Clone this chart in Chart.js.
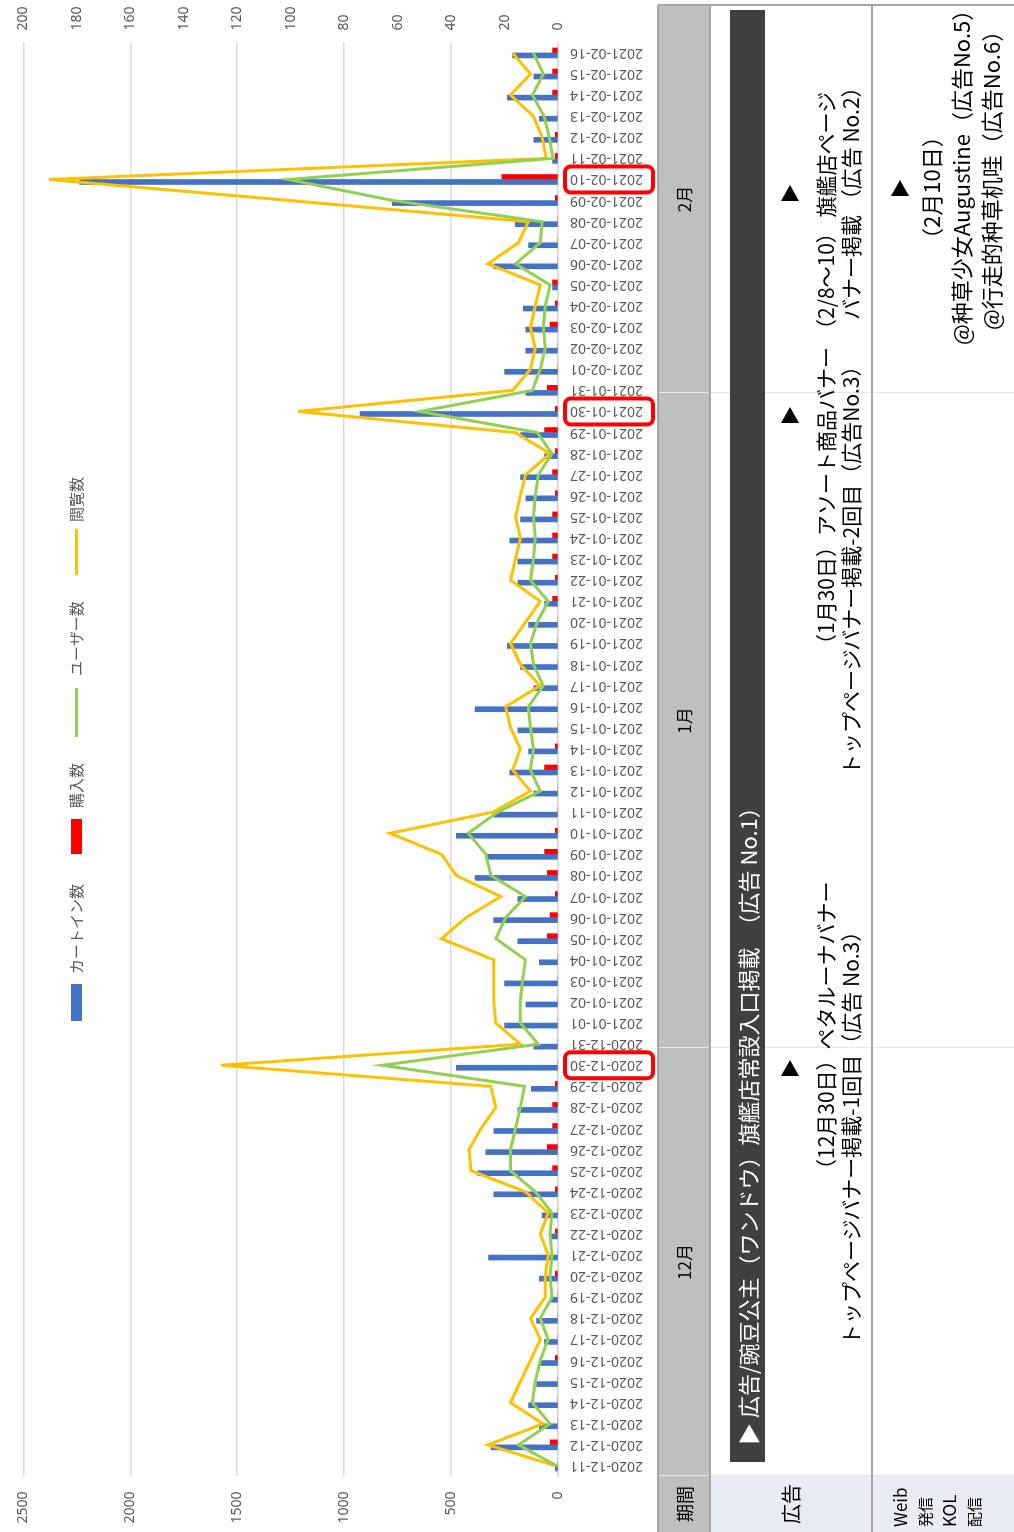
<!DOCTYPE html>
<html lang="ja">
<head>
<meta charset="UTF-8" />
<title>カートイン数・購入数・ユーザー数・閲覧数 推移</title>
<script src="https://cdn.jsdelivr.net/npm/chart.js"></script>
<style>
  body { margin: 0; width: 1014px; height: 1532px; overflow: hidden; background: #fff;
         font-family: "Noto Sans CJK JP", "Noto Sans", sans-serif; }
  /* the sheet is laid out landscape and turned a quarter to the left */
  #sheet { position: absolute; left: 0; top: 0; width: 1532px; height: 1014px;
           transform-origin: 0 0; transform: translate(0, 1532px) rotate(-90deg); }
  .abs { position: absolute; }
  .txt { position: absolute; white-space: nowrap; line-height: 22px; height: 22px; font-size: 21px; color: #000; }
  .kol { font-size: 22px; }
  .tri { position: absolute; width: 0; height: 0; border-left: 16px solid #000;
         border-top: 9px solid transparent; border-bottom: 9px solid transparent; }
  .leg { position: absolute; font-size: 15px; color: #595959; line-height: 20px; top: 66px; white-space: nowrap; }
</style>
</head>
<body>
<div id="sheet">
  <canvas id="trend" width="1532" height="660" class="abs" style="left:0;top:0"></canvas>

  <!-- legend -->
  <div class="abs" style="left:511px;top:71px;width:37px;height:11px;background:#4472c4"></div>
  <div class="leg" style="left:558px">カートイン数</div>
  <div class="abs" style="left:678px;top:71px;width:35px;height:11px;background:#ff0000"></div>
  <div class="leg" style="left:724px">購入数</div>
  <div class="abs" style="left:795px;top:75px;width:49px;height:3px;background:#92d050"></div>
  <div class="leg" style="left:856px">ユーザー数</div>
  <div class="abs" style="left:957px;top:75px;width:46px;height:3px;background:#ffc000"></div>
  <div class="leg" style="left:1010px">閲覧数</div>

  <!-- schedule table -->
  <div class="abs" style="left:0;top:658px;width:1527px;height:52px;background:#bfbfbf"></div>
  <div class="abs" style="left:0;top:710px;width:56px;height:304px;background:#e9ebf5"></div>
  <div class="abs" style="left:56px;top:658px;width:1px;height:356px;background:#e6e6e6"></div>
  <div class="abs" style="left:484px;top:658px;width:1px;height:356px;background:#e6e6e6"></div>
  <div class="abs" style="left:1139px;top:658px;width:1px;height:356px;background:#e6e6e6"></div>
  <div class="abs" style="left:0;top:657px;width:1527px;height:2px;background:#a6a6a6"></div>
  <div class="abs" style="left:0;top:709px;width:1527px;height:2px;background:#a6a6a6"></div>
  <div class="abs" style="left:0;top:871px;width:1527px;height:2px;background:#a6a6a6"></div>
  <div class="abs" style="left:1526px;top:658px;width:2px;height:356px;background:#a6a6a6"></div>

  <div class="abs" style="left:0;top:658px;width:56px;height:52px;line-height:52px;text-align:center;font-size:18px">期間</div>
  <div class="abs" style="left:56px;top:658px;width:428px;height:52px;line-height:52px;text-align:center;font-size:17px">12月</div>
  <div class="abs" style="left:484px;top:658px;width:655px;height:52px;line-height:52px;text-align:center;font-size:17px">1月</div>
  <div class="abs" style="left:1139px;top:658px;width:388px;height:52px;line-height:52px;text-align:center;font-size:17px">2月</div>
  <div class="abs" style="left:0;top:710px;width:56px;height:162px;line-height:162px;text-align:center;font-size:20px">広告</div>
  <div class="abs" style="left:5px;top:888px;font-size:15px;line-height:24px"><span style="font-size:17px">Weib</span><br>発信<br><span style="font-size:17px">KOL</span><br>配信</div>

  <div class="abs" style="left:70px;top:730px;width:1452px;height:35px;background:#404040"></div>
  <div class="txt" style="left:87px;top:736px;color:#fff;font-size:22px">▶ 広告/豌豆公主（ワンドウ）旗艦店常設入口掲載　（広告 No.1）</div>

  <div class="tri" style="left:456px;top:781px"></div>
  <div class="txt" style="left:352px;top:814px">（12月30日）ペタルーナバナー</div>
  <div class="txt" style="left:187px;top:839px">トップページバナー掲載-1回目（広告 No.3）</div>

  <div class="tri" style="left:1109px;top:781px"></div>
  <div class="txt" style="left:877px;top:814px">（1月30日）アソート商品バナー</div>
  <div class="txt" style="left:757px;top:839px">トップページバナー掲載-2回目（広告No.3）</div>

  <div class="tri" style="left:1331px;top:781px"></div>
  <div class="txt" style="left:1192px;top:814px">（2/8～10） 旗艦店ページ</div>
  <div class="txt" style="left:1212px;top:839px">バナー掲載 （広告 No.2）</div>

  <div class="tri" style="left:1336px;top:891px"></div>
  <div class="txt kol" style="left:1282px;top:919px">（2月10日）</div>
  <div class="txt kol" style="left:1187px;top:949px">@种草少女Augustine（広告No.5）</div>
  <div class="txt kol" style="left:1202px;top:979px">@行走的种草机哇（広告No.6）</div>
</div>

<script>
const dates = [
  '2020-12-11','2020-12-12','2020-12-13','2020-12-14','2020-12-15','2020-12-16','2020-12-17',
  '2020-12-18','2020-12-19','2020-12-20','2020-12-21','2020-12-22','2020-12-23','2020-12-24',
  '2020-12-25','2020-12-26','2020-12-27','2020-12-28','2020-12-29','2020-12-30','2020-12-31',
  '2021-01-01','2021-01-02','2021-01-03','2021-01-04','2021-01-05','2021-01-06','2021-01-07',
  '2021-01-08','2021-01-09','2021-01-10','2021-01-11','2021-01-12','2021-01-13','2021-01-14',
  '2021-01-15','2021-01-16','2021-01-17','2021-01-18','2021-01-19','2021-01-20','2021-01-21',
  '2021-01-22','2021-01-23','2021-01-24','2021-01-25','2021-01-26','2021-01-27','2021-01-28',
  '2021-01-29','2021-01-30','2021-01-31','2021-02-01','2021-02-02','2021-02-03','2021-02-04',
  '2021-02-05','2021-02-06','2021-02-07','2021-02-08','2021-02-09','2021-02-10','2021-02-11',
  '2021-02-12','2021-02-13','2021-02-14','2021-02-15','2021-02-16'
];

// bars, right axis
const cartIns = [
  1, 25, 7, 11, 8, 7, 5, 8, 3, 7, 26, 3, 6, 24, 30, 27, 24, 15, 10, 38, 9,
  20, 12, 20, 7, 15, 24, 15, 31, 27, 38, 24, 9, 18, 11, 15, 31, 9, 14, 19, 11, 5, 15, 15, 18, 14, 12, 14, 5, 14, 74, 12,
  20, 12, 12, 13, 2, 24, 11, 16, 62, 179, 2, 9, 7, 19, 9, 17
];
const purchases = [
  0, 3, 0, 0, 0, 1, 0, 0, 0, 1, 0, 1, 0, 1, 2, 4, 2, 2, 1, 0, 0,
  0, 0, 0, 0, 4, 3, 1, 4, 5, 1, 0, 0, 5, 1, 0, 0, 0, 0, 0, 0, 2, 1, 2, 2, 2, 1, 2, 1, 5, 1, 4,
  0, 0, 3, 1, 2, 0, 0, 0, 1, 21, 1, 1, 0, 2, 2, 2
];

// lines, left axis
const users = [
  5, 185, 37, 120, 106, 83, 46, 83, 28, 37, 28, 37, 28, 106, 222, 222, 199, 176, 157, 822, 92,
  176, 176, 166, 152, 291, 245, 152, 314, 337, 420, 282, 83, 129, 115, 129, 139, 69, 115, 129, 97, 46, 129, 115, 106, 115, 106, 92, 28, 97, 647, 120,
  83, 60, 69, 60, 37, 199, 83, 74, 771, 1261, 23, 41, 65, 120, 69, 115
];
const views = [
  10, 328, 69, 222, 176, 129, 83, 129, 60, 60, 46, 83, 46, 152, 407, 416, 360, 291, 314, 1576, 176,
  291, 300, 300, 300, 545, 430, 268, 476, 545, 785, 305, 129, 212, 176, 222, 245, 83, 176, 222, 152, 83, 222, 199, 176, 199, 176, 152, 37, 199, 1215, 212,
  129, 106, 129, 106, 83, 328, 185, 139, 1250, 2380, 55, 74, 115, 222, 129, 212
];

const leftMax = 2500, leftStep = 500;
const rightMax = 200, rightStep = 20;
const markedDates = ['2020-12-30', '2021-01-30', '2021-02-10'];

const tickFont = { family: 'Noto Sans', size: 14 };
const plain = v => String(v);

// red frames round the campaign dates on the category axis
const markedLabels = {
  id: 'markedLabels',
  afterDraw(chart) {
    const { ctx, scales: { x } } = chart;
    ctx.save();
    ctx.strokeStyle = '#ff0000';
    ctx.lineWidth = 4;
    markedDates.forEach(d => {
      const px = x.getPixelForValue(dates.indexOf(d));
      ctx.beginPath();
      ctx.roundRect(px - 13, 565, 26, 88, 6);
      ctx.stroke();
    });
    ctx.restore();
  }
};

new Chart(document.getElementById('trend'), {
  type: 'bar',
  data: {
    labels: dates,
    datasets: [
      { type: 'line', label: 'ユーザー数', data: users, borderColor: '#92d050', borderWidth: 3,
        pointRadius: 0, tension: 0, yAxisID: 'y', order: 0 },
      { type: 'line', label: '閲覧数', data: views, borderColor: '#ffc000', borderWidth: 3,
        pointRadius: 0, tension: 0, yAxisID: 'y', order: 1 },
      { label: 'カートイン数', data: cartIns, backgroundColor: '#4472c4', barThickness: 5, yAxisID: 'y2', order: 2 },
      { label: '購入数', data: purchases, backgroundColor: '#ff0000', barThickness: 5, yAxisID: 'y2', order: 2 }
    ]
  },
  options: {
    responsive: false,
    animation: false,
    layout: { padding: { top: 17 } },
    plugins: { legend: { display: false }, tooltip: { enabled: false } },
    scales: {
      x: {
        grid: { display: false, drawTicks: false },
        border: { color: '#d9d9d9', width: 1.5 },
        ticks: { autoSkip: false, minRotation: 90, maxRotation: 90, padding: 12, color: '#595959', font: tickFont },
        afterFit(s) { s.height = 102; }
      },
      y: {
        position: 'left', min: 0, max: leftMax,
        ticks: { stepSize: leftStep, padding: 15, color: '#595959', font: tickFont, callback: plain },
        grid: { color: '#d9d9d9', lineWidth: 1.5, drawTicks: false },
        border: { display: false },
        afterFit(s) { s.width = 55.5; }
      },
      y2: {
        position: 'right', min: 0, max: rightMax,
        ticks: { stepSize: rightStep, padding: 12, color: '#595959', font: tickFont, callback: plain },
        grid: { drawOnChartArea: false, drawTicks: false },
        border: { display: false },
        afterFit(s) { s.width = 42.4; }
      }
    }
  },
  plugins: [markedLabels]
});
</script>
</body>
</html>
